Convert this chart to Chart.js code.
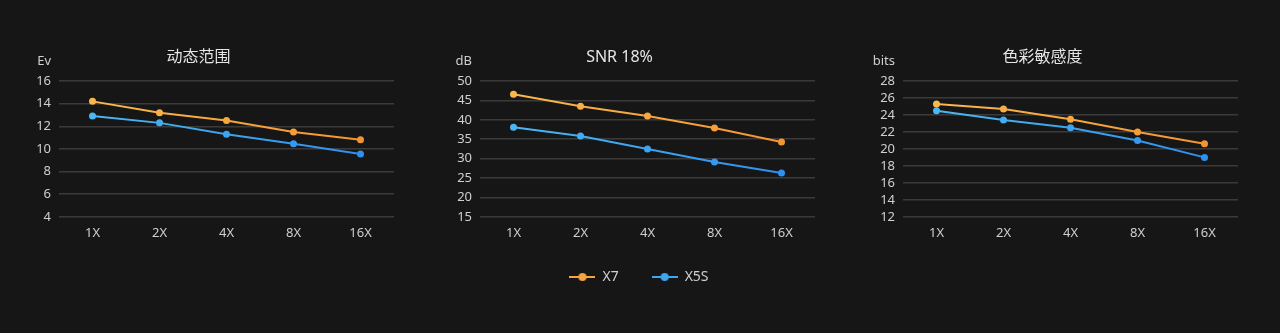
<!DOCTYPE html>
<html lang="zh">
<head>
<meta charset="UTF-8">
<title>X7 / X5S</title>
<script src="https://cdn.jsdelivr.net/npm/chart.js"></script>
<style>
  html, body { margin: 0; padding: 0; background: #161616; }
  body { width: 1280px; height: 333px; position: relative; overflow: hidden; }
  .panel { position: absolute; top: 0; width: 430px; height: 333px; }
  .legend { position: absolute; top: 237px; left: 424px; width: 430px; height: 130px; }
</style>
</head>
<body>
<div class="panel" style="left:3px"><canvas id="c1"></canvas></div>
<div class="panel" style="left:424px"><canvas id="c2"></canvas></div>
<div class="panel" style="left:847px"><canvas id="c3"></canvas></div>
<div class="legend"><canvas id="lg"></canvas></div>
<script>
const categories = ['1X', '2X', '4X', '8X', '16X'];
const seriesNames = ['X7', 'X5S'];

// 动态范围 (Ev)
const drX7 = [14.2, 13.2, 12.5, 11.5, 10.8];
const drX5S = [12.9, 12.3, 11.3, 10.45, 9.55];
// SNR 18% (dB)
const snrX7 = [46.6, 43.5, 41.0, 37.9, 34.3];
const snrX5S = [38.1, 35.8, 32.5, 29.1, 26.3];
// 色彩敏感度 (bits)
const csX7 = [25.3, 24.7, 23.5, 22.0, 20.6];
const csX5S = [24.5, 23.4, 22.5, 21.0, 19.0];

const titles = ['动态范围', 'SNR 18%', '色彩敏感度'];
const units = ['Ev', 'dB', 'bits'];
const yRanges = [[4, 16, 2], [15, 50, 5], [12, 28, 2]];

const FONT = '"Noto Sans", "Noto Sans CJK SC", sans-serif';
const orange = ['#fbbd50', '#f48f2c'];
const blue = ['#4dbcf2', '#2b8bee'];

function grad(stops) {
  return function (ctx) {
    const area = ctx.chart.chartArea;
    if (!area) return stops[0];
    const g = ctx.chart.ctx.createLinearGradient(area.left, 0, area.right, 0);
    g.addColorStop(0, stops[0]);
    g.addColorStop(1, stops[1]);
    return g;
  };
}

function legendIcon(color) {
  const c = document.createElement('canvas');
  c.width = 26; c.height = 10;
  const x = c.getContext('2d');
  x.strokeStyle = color; x.lineWidth = 2;
  x.beginPath(); x.moveTo(0, 5); x.lineTo(26, 5); x.stroke();
  x.fillStyle = color;
  x.beginPath(); x.arc(13, 5, 4, 0, Math.PI * 2); x.fill();
  return c;
}
const icons = [legendIcon('#f6a440'), legendIcon('#3ea6f2')];

const unitPlugin = {
  id: 'unitLabel',
  afterDraw(chart, args, opts) {
    const y = chart.scales.y;
    const c = chart.ctx;
    c.save();
    c.font = '13px ' + FONT;
    c.fillStyle = '#cfcfcf';
    c.textAlign = 'right';
    c.textBaseline = 'middle';
    c.fillText(opts.text, y.right - 8, chart.chartArea.top - 20);
    c.restore();
  }
};

function makeChart(id, idx, a, b) {
  const r = yRanges[idx];
  return new Chart(document.getElementById(id), {
    type: 'line',
    data: {
      labels: categories,
      datasets: [
        { label: seriesNames[0], data: a, borderColor: grad(orange), pointBackgroundColor: grad(orange),
          pointBorderWidth: 0, pointRadius: 3.5, borderWidth: 2, tension: 0 },
        { label: seriesNames[1], data: b, borderColor: grad(blue), pointBackgroundColor: grad(blue),
          pointBorderWidth: 0, pointRadius: 3.5, borderWidth: 2, tension: 0 }
      ]
    },
    options: {
      responsive: true,
      maintainAspectRatio: false,
      animation: false,
      layout: { padding: { left: 0, right: 39, top: 0, bottom: 82.6 } },
      plugins: {
        tooltip: { enabled: false },
        unitLabel: { text: units[idx] },
        legend: { display: false },
        title: {
          display: true, text: titles[idx], color: '#e6e6e6',
          font: { family: FONT, size: 16, weight: 'normal' },
          padding: { top: 47.4, bottom: 14.4 }
        }
      },
      scales: {
        x: {
          offset: true,
          grid: { display: false, drawTicks: false, tickLength: 0 },
          border: { display: false },
          ticks: { color: '#cfcfcf', padding: 9, font: { family: FONT, size: 13 } }
        },
        y: {
          min: r[0], max: r[1],
          afterFit: (s) => { s.width = 56; },
          grid: { color: '#3a3a3a', drawTicks: false, lineWidth: 1.5 },
          border: { display: false },
          ticks: { stepSize: r[2], autoSkip: false, color: '#cfcfcf', padding: 8, font: { family: FONT, size: 13 } }
        }
      }
    },
    plugins: [unitPlugin]
  });
}

makeChart('c1', 0, drX7, drX5S);
makeChart('c2', 1, snrX7, snrX5S);
makeChart('c3', 2, csX7, csX5S);

// shared legend
new Chart(document.getElementById('lg'), {
  type: 'line',
  data: {
    labels: categories,
    datasets: seriesNames.map((n) => ({ label: n, data: [null], pointRadius: 0, borderWidth: 0 }))
  },
  options: {
    responsive: true,
    maintainAspectRatio: false,
    animation: false,
    layout: { padding: 0 },
    scales: { x: { display: false }, y: { display: false } },
    plugins: {
      tooltip: { enabled: false },
      legend: {
        display: true,
        position: 'top',
        labels: {
          usePointStyle: true, pointStyleWidth: 26, padding: 33, color: '#d0d0d0',
          font: { family: FONT, size: 14 },
          generateLabels: (chart) => chart.data.datasets.map((d, i) => ({
            text: d.label, pointStyle: icons[i], fontColor: '#d0d0d0',
            lineWidth: 0, strokeStyle: 'transparent', datasetIndex: i, hidden: false
          }))
        }
      }
    }
  }
});
</script>
</body>
</html>
